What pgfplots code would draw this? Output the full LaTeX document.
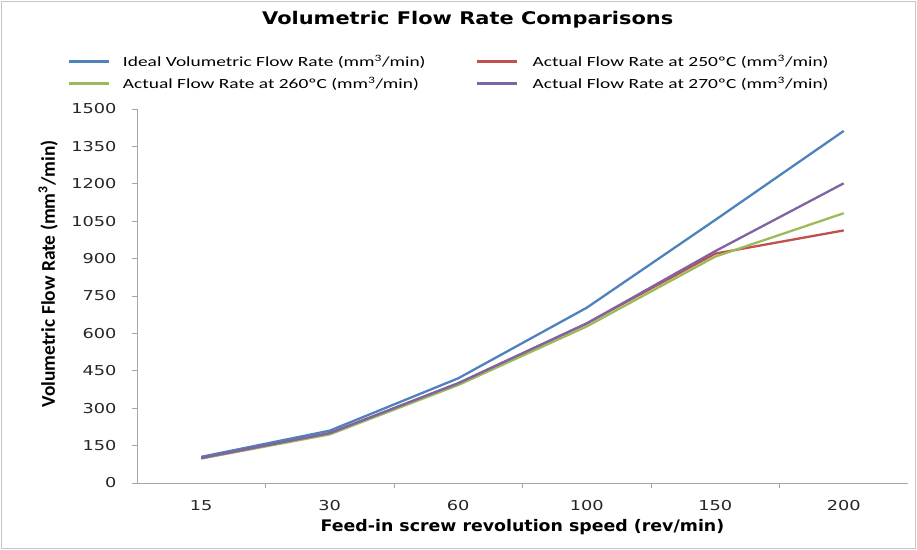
\documentclass[border=0pt]{standalone}
\usepackage{pgfplots}
\pgfplotsset{compat=1.18}
\usepackage{fontspec}
\setmainfont{Carlito}
\newfontfamily\tickfont{DejaVu Sans}[FakeStretch=1.3]
\newfontfamily\titlefont{DejaVu Sans}[FakeStretch=1.2]
\newfontfamily\xlabfont{DejaVu Sans}[FakeStretch=1.09]
\newfontfamily\legfont{Carlito}[FakeStretch=1.39]
\definecolor{cblue}{HTML}{4F81BD}
\definecolor{cred}{HTML}{C0504D}
\definecolor{cgreen}{HTML}{9BBB59}
\definecolor{cpurple}{HTML}{8064A2}
\begin{document}
\begin{tikzpicture}
\useasboundingbox (-137bp,-67bp) rectangle (780bp,483bp);
\draw[gray!45, line width=1bp] (-135bp,-65bp) rectangle (778bp,481bp);
\begin{axis}[
  scale only axis, width=771bp, height=374bp,
  at={(0,0)}, anchor=south west,
  xmin=-0.5, xmax=5.5, ymin=0, ymax=1500,
  axis x line*=bottom, axis y line*=left,
  axis line style={gray!70, line width=0.8bp},
  xtick={0,...,5}, xticklabels={15,30,60,100,150,200},
  minor xtick={0.5,1.5,2.5,3.5,4.5},
  ytick={0,150,...,1500},
  major x tick style={draw=none},
  minor tick length=5bp, major tick length=5bp,
  tick align=outside,
  tick style={gray!70, line width=0.8bp},
  /pgf/number format/assume math mode=true,
  /pgf/number format/1000 sep={},
  tick label style={font=\tickfont\fontsize{13.7}{13.7}\selectfont, text=black!85},
  xticklabel style={yshift=-9bp},
  yticklabel style={xshift=-12bp},
  title={\titlefont\bfseries\fontsize{17.5}{17.5}\selectfont Volumetric Flow Rate Comparisons},
  title style={at={(0.429,1.222)}, anchor=center, yshift=0pt},
  xlabel={\xlabfont\bfseries\fontsize{16}{16}\selectfont Feed-in screw revolution speed (rev/min)},
  xlabel style={at={(axis description cs:0.5,0)}, anchor=center, yshift=-44bp},
  ylabel={\bfseries\fontsize{19.5}{19.5}\selectfont Volumetric Flow Rate (mm\textsuperscript{3}/min)},
  ylabel style={at={(axis description cs:-0.1154,0.559)}, anchor=center},
  legend columns=2,
  legend cell align=left,
  legend style={draw=none, fill=none, at={(-0.0895,1.144)}, anchor=north west,
    inner sep=0pt, outer sep=0pt, nodes={inner sep=0pt},
    font=\legfont\fontsize{14}{14}\selectfont, row sep=9bp,
    /tikz/column 1/.style={column sep=12bp},
    /tikz/column 2/.style={column sep=50bp},
    /tikz/column 3/.style={column sep=14bp}},
  legend image code/.code={\draw[#1, line width=3bp] (0bp,0bp) -- (40bp,0bp);},
  every axis plot/.append style={line width=2.3bp},
]
\addplot[cblue] coordinates {(0,105) (1,210) (2,420) (3,703) (4,1055) (5,1412)};
\addlegendentry{Ideal Volumetric Flow Rate (mm\textsuperscript{3}/min)}
\addplot[cred] coordinates {(0,100) (1,200) (2,400) (3,640) (4,920) (5,1013)};
\addlegendentry{Actual Flow Rate at 250ºC (mm\textsuperscript{3}/min)}
\addplot[cgreen] coordinates {(0,98) (1,195) (2,393) (3,628) (4,908) (5,1082)};
\addlegendentry{Actual Flow Rate at 260ºC (mm\textsuperscript{3}/min)}
\addplot[cpurple] coordinates {(0,100) (1,200) (2,400) (3,640) (4,930) (5,1202)};
\addlegendentry{Actual Flow Rate at 270ºC (mm\textsuperscript{3}/min)}
\end{axis}
\end{tikzpicture}
\end{document}
